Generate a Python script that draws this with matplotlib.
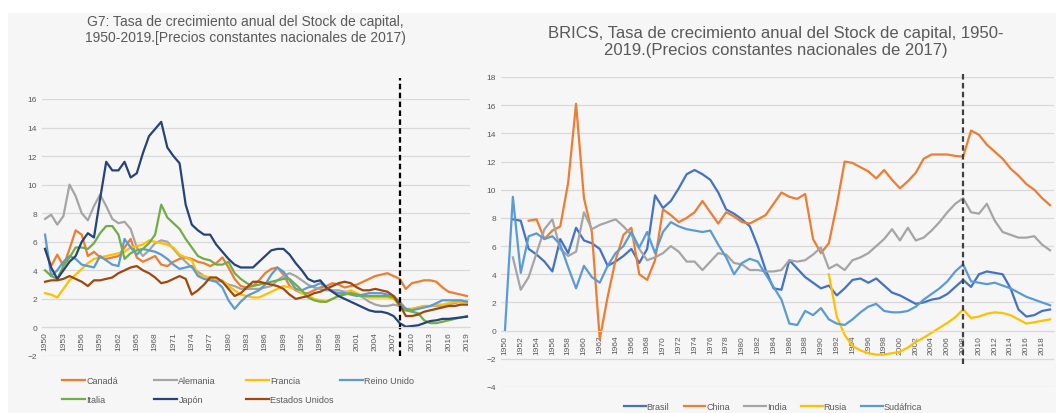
import matplotlib.pyplot as plt
import numpy as np
from matplotlib.patches import Rectangle

nan = np.nan
years = np.arange(1950, 2020)

# G7
canada = [5.5, 4.3, 5.1, 4.3, 5.5, 6.8, 6.5, 5.0, 5.3, 4.9, 4.8, 4.9, 5.0, 5.6, 6.2, 4.9, 4.6, 4.8, 5.0, 4.4,
          4.3, 4.6, 4.8, 4.9, 4.8, 4.6, 4.5, 4.3, 4.5, 4.9, 4.2, 3.4, 2.9, 2.8, 2.9, 3.3, 3.8, 4.1, 4.2, 3.7,
          2.9, 2.6, 2.4, 2.4, 2.6, 2.8, 2.9, 3.1, 3.0, 2.8, 2.9, 3.0, 3.2, 3.4, 3.6, 3.7, 3.8, 3.6, 3.4, 2.7,
          3.1, 3.2, 3.3, 3.3, 3.2, 2.8, 2.5, 2.4, 2.3, 2.2]
alemania = [7.6, 7.9, 7.2, 7.8, 10.0, 9.2, 8.0, 7.5, 8.5, 9.3, 8.5, 7.6, 7.3, 7.4, 6.9, 5.6, 5.0, 5.4, 5.9, 6.1,
            6.0, 5.5, 5.0, 4.6, 4.2, 3.9, 3.6, 3.4, 3.3, 3.2, 3.0, 2.9, 2.7, 2.7, 2.7, 2.7, 2.8, 2.9, 3.3, 3.6,
            3.8, 3.6, 3.3, 3.0, 2.8, 2.7, 2.6, 2.6, 2.6, 2.5, 2.5, 2.3, 2.1, 1.8, 1.6, 1.5, 1.5, 1.6, 1.5, 1.3,
            1.3, 1.4, 1.5, 1.5, 1.5, 1.5, 1.6, 1.7, 1.8, 1.8]
francia = [2.4, 2.3, 2.1, 2.7, 3.3, 3.7, 4.1, 4.5, 4.8, 4.9, 5.0, 5.1, 5.2, 5.3, 5.6, 5.7, 5.8, 6.1, 6.0, 5.9,
           5.8, 5.6, 5.1, 4.9, 4.7, 3.7, 3.6, 3.5, 3.4, 3.3, 2.9, 2.6, 2.3, 2.2, 2.1, 2.1, 2.3, 2.5, 2.7, 2.9,
           2.8, 2.7, 2.4, 2.2, 2.0, 1.9, 1.8, 2.0, 2.2, 2.4, 2.6, 2.4, 2.2, 2.1, 2.1, 2.1, 2.1, 2.0, 1.6, 1.2,
           1.3, 1.4, 1.5, 1.5, 1.6, 1.6, 1.7, 1.8, 1.8, 1.8]
reino_unido = [6.5, 3.6, 4.0, 4.6, 5.0, 4.8, 4.4, 4.3, 4.2, 5.0, 4.7, 4.4, 4.3, 6.2, 5.6, 5.1, 5.5, 5.4, 5.3, 5.1,
               4.8, 4.4, 4.1, 4.2, 4.3, 3.6, 3.4, 3.3, 3.2, 2.8, 1.9, 1.3, 1.8, 2.2, 2.4, 2.6, 3.0, 3.7, 4.2, 3.9,
               3.3, 2.7, 2.6, 2.8, 2.9, 3.1, 2.8, 2.5, 2.4, 2.4, 2.3, 2.2, 2.3, 2.4, 2.4, 2.4, 2.3, 2.2, 1.8, 1.3,
               1.2, 1.3, 1.4, 1.5, 1.7, 1.9, 1.9, 1.9, 1.9, 1.8]
italia = [4.0, 3.6, 3.4, 4.3, 4.9, 5.6, 5.6, 5.5, 5.9, 6.6, 7.1, 7.1, 6.5, 4.8, 5.2, 5.4, 5.5, 5.9, 6.5, 8.6,
          7.7, 7.3, 6.9, 6.2, 5.6, 5.0, 4.8, 4.7, 4.4, 4.4, 4.6, 3.8, 3.4, 3.1, 2.9, 3.0, 3.1, 3.2, 3.3, 3.4,
          3.4, 3.0, 2.6, 2.1, 1.9, 1.8, 1.8, 2.0, 2.2, 2.3, 2.4, 2.3, 2.2, 2.2, 2.2, 2.2, 2.2, 2.1, 1.5, 1.2,
          1.1, 1.0, 0.5, 0.3, 0.3, 0.4, 0.5, 0.6, 0.7, 0.8]
japon = [5.5, 4.2, 3.4, 4.0, 4.6, 5.0, 6.0, 6.6, 6.3, 9.0, 11.6, 11.0, 11.0, 11.6, 10.5, 10.8, 12.2, 13.4, 13.9, 14.4,
         12.6, 12.0, 11.5, 8.6, 7.2, 6.8, 6.5, 6.5, 5.8, 5.3, 4.8, 4.4, 4.2, 4.2, 4.2, 4.6, 5.0, 5.4, 5.5, 5.5,
         5.1, 4.5, 4.0, 3.4, 3.2, 3.3, 2.8, 2.5, 2.2, 2.0, 1.8, 1.6, 1.4, 1.2, 1.1, 1.1, 1.0, 0.8, 0.3, 0.05,
         0.1, 0.15, 0.3, 0.45, 0.5, 0.6, 0.6, 0.65, 0.7, 0.75]
eeuu = [3.2, 3.3, 3.3, 3.4, 3.6, 3.4, 3.2, 2.9, 3.3, 3.3, 3.4, 3.5, 3.8, 4.0, 4.2, 4.3, 4.0, 3.8, 3.5, 3.1,
        3.2, 3.4, 3.6, 3.4, 2.3, 2.6, 3.0, 3.5, 3.5, 3.2, 2.7, 2.2, 2.4, 2.8, 3.2, 3.2, 3.1, 3.0, 2.9, 2.7,
        2.3, 2.0, 2.1, 2.2, 2.4, 2.5, 2.7, 2.9, 3.1, 3.2, 3.1, 2.8, 2.6, 2.6, 2.7, 2.6, 2.5, 2.2, 1.6, 0.8,
        0.8, 0.9, 1.1, 1.2, 1.3, 1.4, 1.5, 1.5, 1.6, 1.6]

# BRICS
brasil = [nan, 7.9, 7.8, 5.8, 5.4, 4.9, 4.2, 6.5, 5.5, 7.3, 6.4, 6.2, 5.8, 4.6, 4.9, 5.3, 5.8, 4.8, 5.8, 9.6,
          8.7, 9.2, 10.1, 11.1, 11.4, 11.1, 10.7, 9.8, 8.6, 8.3, 7.9, 7.4, 6.0, 4.3, 3.0, 2.9, 5.0, 4.4, 3.8, 3.4,
          3.0, 3.2, 2.5, 3.0, 3.6, 3.7, 3.4, 3.7, 3.2, 2.7, 2.5, 2.2, 1.9, 2.0, 2.2, 2.3, 2.6, 3.1, 3.6, 3.1,
          4.0, 4.2, 4.1, 4.0, 3.0, 1.5, 1.0, 1.1, 1.4, 1.5]
china = [nan, nan, nan, 7.8, 7.9, 6.5, 7.1, 7.4, 10.5, 16.1, 9.4, 7.0, -0.6, 2.4, 5.0, 6.8, 7.3, 4.0, 3.6, 5.0,
         8.6, 8.2, 7.7, 8.0, 8.4, 9.2, 8.4, 7.6, 8.4, 8.1, 7.7, 7.6, 7.9, 8.2, 9.0, 9.8, 9.5, 9.35, 9.7, 6.5,
         5.5, 6.2, 8.9, 12.0, 11.9, 11.6, 11.3, 10.8, 11.4, 10.7, 10.1, 10.6, 11.2, 12.2, 12.5, 12.5, 12.5, 12.4, 12.35, 14.2,
         13.9, 13.2, 12.7, 12.2, 11.5, 11.0, 10.4, 10.0, 9.4, 8.9]
india = [nan, 5.2, 2.9, 3.8, 5.5, 7.2, 7.9, 5.8, 5.3, 5.6, 8.4, 7.2, 7.5, 7.7, 7.9, 7.4, 6.8, 5.8, 5.0, 5.2,
         5.5, 6.0, 5.6, 4.9, 4.9, 4.3, 4.9, 5.5, 5.4, 4.8, 4.7, 4.3, 4.3, 4.2, 4.2, 4.3, 5.0, 4.9, 5.0, 5.4,
         5.9, 4.4, 4.7, 4.3, 5.0, 5.2, 5.5, 6.0, 6.5, 7.2, 6.4, 7.3, 6.4, 6.6, 7.1, 7.7, 8.4, 9.0, 9.4, 8.4,
         8.3, 9.0, 7.8, 7.0, 6.8, 6.6, 6.6, 6.7, 6.1, 5.7]
rusia = [nan] * 41 + [4.0, 1.0, -0.3, -1.1, -1.4, -1.6, -1.7, -1.7, -1.6, -1.5, -1.2, -0.8, -0.5, -0.15, 0.2, 0.55, 0.95, 1.5, 0.9,
                      1.0, 1.2, 1.3, 1.25, 1.1, 0.8, 0.5, 0.6, 0.7, 0.8]
sudafrica = [0.0, 9.5, 4.1, 6.7, 6.9, 6.5, 6.7, 6.1, 4.5, 3.0, 4.6, 3.8, 3.4, 4.6, 5.5, 6.0, 7.0, 5.9, 7.0, 5.5,
             7.0, 7.7, 7.4, 7.2, 7.1, 7.0, 7.1, 6.1, 5.2, 4.0, 4.8, 5.1, 4.9, 4.0, 3.1, 2.2, 0.5, 0.4, 1.4, 1.1,
             1.6, 0.8, 0.5, 0.4, 0.8, 1.3, 1.7, 1.9, 1.4, 1.3, 1.3, 1.4, 1.7, 2.2, 2.6, 3.0, 3.5, 4.2, 4.7, 3.5,
             3.4, 3.3, 3.4, 3.2, 3.0, 2.7, 2.4, 2.2, 2.0, 1.8]

crisis_year = 2008

g7 = [('Canadá', canada, '#ED7D31'), ('Alemania', alemania, '#A5A5A5'), ('Francia', francia, '#FFC000'),
      ('Reino Unido', reino_unido, '#5B9BD5'), ('Italia', italia, '#70AD47'), ('Japón', japon, '#264478'),
      ('Estados Unidos', eeuu, '#9E480E')]
brics = [('Brasil', brasil, '#4472C4'), ('China', china, '#ED7D31'), ('India', india, '#A5A5A5'),
         ('Rusia', rusia, '#FFC000'), ('Sudáfrica', sudafrica, '#5B9BD5')]

plt.rcParams['font.family'] = ['Liberation Sans', 'DejaVu Sans']
txt = '#595959'
grid = '#d9d9d9'
W, H = 1056, 414

fig = plt.figure(figsize=(10.56, 4.14), dpi=100, facecolor='white')
fig.patches.append(Rectangle((8 / W, 0), 1, (H - 14) / H, transform=fig.transFigure,
                             facecolor='#f6f6f6', edgecolor='none', zorder=-10))


def style(ax, ylo, yhi, xticks):
    ax.set_facecolor('none')
    for s in ['top', 'right', 'left']:
        ax.spines[s].set_visible(False)
    # category labels sit next to the zero line
    ax.spines['bottom'].set_position(('data', 0))
    ax.spines['bottom'].set_color(grid)
    ax.set_xlim(1949.5, 2019.5)
    ax.set_ylim(ylo, yhi)
    ax.set_yticks(np.arange(ylo, yhi + 1, 2))
    ax.set_xticks(xticks)
    ax.set_xticklabels([str(y) for y in xticks])
    ax.grid(axis='y', color=grid, lw=0.9)
    ax.set_axisbelow(True)
    ax.tick_params(axis='both', length=0, colors=txt, labelsize=6)
    ax.tick_params(axis='x', pad=3, labelsize=6, labelrotation=90)


# left chart
ax1 = fig.add_axes([42 / W, 57 / H, 428 / W, 257 / H])
style(ax1, -2, 16, np.arange(1950, 2020, 3))
lines1 = {}
for name, vals, col in g7:
    lines1[name], = ax1.plot(years, vals, color=col, lw=1.6, label=name)
ax1.plot([crisis_year, crisis_year], [-2, 17.5], color='black', lw=1.6, ls=(0, (2.5, 1.5)), clip_on=False)
fig.text(245 / W, 1 - 30 / H,
         'G7: Tasa de crecimiento anual del Stock de capital,\n1950-2019.[Precios constantes nacionales de 2017)',
         ha='center', va='center', fontsize=10, color=txt, linespacing=1.15)

# legend of the left chart, one column at a time (fixed column starts)
legend_rows = [['Canadá', 'Alemania', 'Francia', 'Reino Unido'], ['Italia', 'Japón', 'Estados Unidos']]
col_x = [62, 154, 246, 340]
for i, x in enumerate(col_x):
    names = [r[i] for r in legend_rows if i < len(r)]
    fig.legend([lines1[n] for n in names], names, loc='upper left', bbox_to_anchor=(x / W, 1 - 377 / H),
               frameon=False, fontsize=6.5, handlelength=2.6, handletextpad=0.1, labelspacing=1.15,
               borderpad=0, borderaxespad=0, labelcolor=txt)

# right chart
ax2 = fig.add_axes([501 / W, 26 / H, 553 / W, 310 / H])
style(ax2, -4, 18, np.arange(1950, 2020, 2))
for name, vals, col in brics:
    ax2.plot(years, vals, color=col, lw=1.6, label=name)
ax2.plot([crisis_year, crisis_year], [-2.4, 18.2], color='#404040', lw=1.6, ls=(0, (2.5, 1.5)), clip_on=False)
fig.text(776 / W, 1 - 42 / H,
         'BRICS, Tasa de crecimiento anual del Stock de capital, 1950-\n2019.(Precios constantes nacionales de 2017)',
         ha='center', va='center', fontsize=12, color=txt, linespacing=1.2)
fig.legend(*ax2.get_legend_handles_labels(), loc='center', bbox_to_anchor=(773 / W, 1 - 408 / H),
           ncol=5, frameon=False, fontsize=6.5, handlelength=2.4, columnspacing=1.6, handletextpad=0.1,
           labelcolor=txt)

fig.savefig('out.png', dpi=100, facecolor=fig.get_facecolor())
